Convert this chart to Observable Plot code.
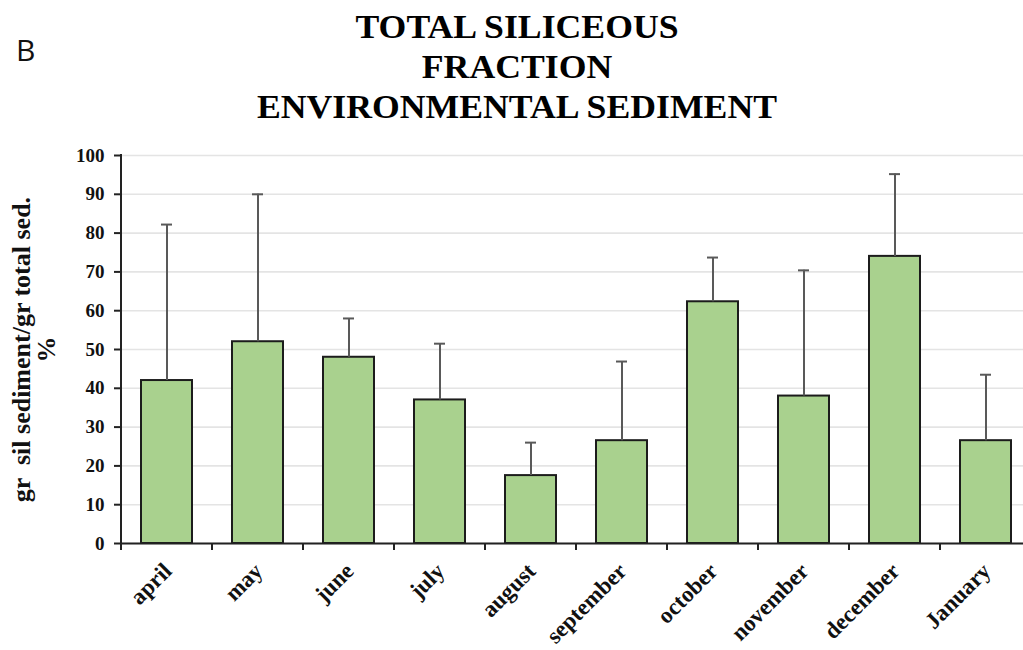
<!DOCTYPE html>
<html>
<head>
<meta charset="utf-8">
<script src="https://cdn.jsdelivr.net/npm/d3@7"></script>
<script src="https://cdn.jsdelivr.net/npm/@observablehq/plot@0.6"></script>
<style>
  html, body { margin: 0; padding: 0; background: #fff; overflow: hidden; }
  #wrap { position: relative; width: 1023px; height: 650px; overflow: hidden; }
  #panel {
    position: absolute; left: 16px; top: 35px;
    font: 400 30px/30px "Open Sans", sans-serif; color: #111;
  }
  #title {
    position: absolute; left: 0; top: 7px; width: 1034px;
    text-align: center;
    font: 700 34px/40px "Liberation Serif", "Times New Roman", serif;
    color: #000; transform: scaleX(1.05); transform-origin: 517px 0;
  }
  svg text { white-space: pre; }
</style>
</head>
<body>
<div id="wrap">
  <div id="panel">B</div>
  <div id="title">TOTAL SILICEOUS<br>FRACTION<br>ENVIRONMENTAL SEDIMENT</div>
</div>
<script>
// Monthly siliceous fraction of the environmental sediment (mean %, with SD)
const months = ["april", "may", "june", "july", "august", "september", "october", "november", "december", "January"];
const means  = [42, 52, 48, 37, 17.5, 26.5, 62.3, 38, 74, 26.5];
const sds    = [40.2, 38, 10, 14.5, 8.5, 20.4, 11.4, 32.4, 21.2, 17];
const yTicks = [0, 10, 20, 30, 40, 50, 60, 70, 80, 90, 100];
const yLabel = "gr  sil sediment/gr total sed.\n%";

const rows = months.map((m, i) => ({month: m, mean: means[i], upper: means[i] + sds[i]}));

const serif = "Liberation Serif, Times New Roman, serif";

// Band-boundary ticks on the x axis and the vertical y axis line
function axisFrame(index, scales) {
  const {x, y} = scales;
  const step = x(months[1]) - x(months[0]);
  const bounds = months.map((m) => x(m)).concat(x(months[months.length - 1]) + step);
  const g = d3.create("svg:g");
  g.selectAll("line.tick").data(bounds).join("line")
    .attr("x1", (d) => d).attr("x2", (d) => d)
    .attr("y1", y(0)).attr("y2", y(0) + 7)
    .attr("stroke", "#222").attr("stroke-width", 2);
  g.append("line")
    .attr("x1", x(months[0])).attr("x2", x(months[0]))
    .attr("y1", y(0) + 1).attr("y2", y(100) - 1)
    .attr("stroke", "#222").attr("stroke-width", 2);
  return g.node();
}

const chart = Plot.plot({
  width: 1023,
  height: 650,
  marginTop: 155,
  marginBottom: 107,
  marginLeft: 121,
  marginRight: -8,
  style: {background: "transparent", overflow: "visible"},
  x: {domain: months, padding: 0, axis: null},
  y: {domain: [0, 100], axis: null},
  marks: [
    Plot.gridY(yTicks, {stroke: "#e4e4e4", strokeOpacity: 1, strokeWidth: 1.6}),
    Plot.barY(rows, {x: "month", y: "mean", fill: "#a9d18e", stroke: "#1c1c1c", strokeWidth: 2, insetLeft: 20, insetRight: 20}),
    Plot.ruleX(rows, {x: "month", y1: "mean", y2: "upper", stroke: "#595959", strokeWidth: 2}),
    Plot.tickY(rows, {x: "month", y: "upper", stroke: "#595959", strokeWidth: 2, insetLeft: 40, insetRight: 40}),
    Plot.ruleY([0], {stroke: "#222", strokeWidth: 2}),
    Plot.axisY(yTicks, {
      tickSize: 7, tickPadding: 10, stroke: "#222", strokeWidth: 2,
      fontFamily: serif, fontWeight: "bold", fontSize: 19, fill: "#111",
      label: null
    }),
    Plot.text(months, {
      x: (d) => d, frameAnchor: "bottom", text: (d) => d,
      rotate: -45, textAnchor: "end", dx: 6, dy: 29,
      fontFamily: serif, fontWeight: "bold", fontSize: 23, fill: "#111"
    }),
    Plot.text([yLabel], {
      frameAnchor: "left", text: (d) => d, rotate: -90,
      textAnchor: "middle", lineAnchor: "middle", lineHeight: 0.98,
      dx: -87, dy: 0,
      fontFamily: serif, fontWeight: "bold", fontSize: 26, fill: "#111"
    }),
    axisFrame
  ]
});

document.getElementById("wrap").prepend(chart);
chart.style.position = "absolute";
chart.style.left = "0";
chart.style.top = "0";
</script>
</body>
</html>
